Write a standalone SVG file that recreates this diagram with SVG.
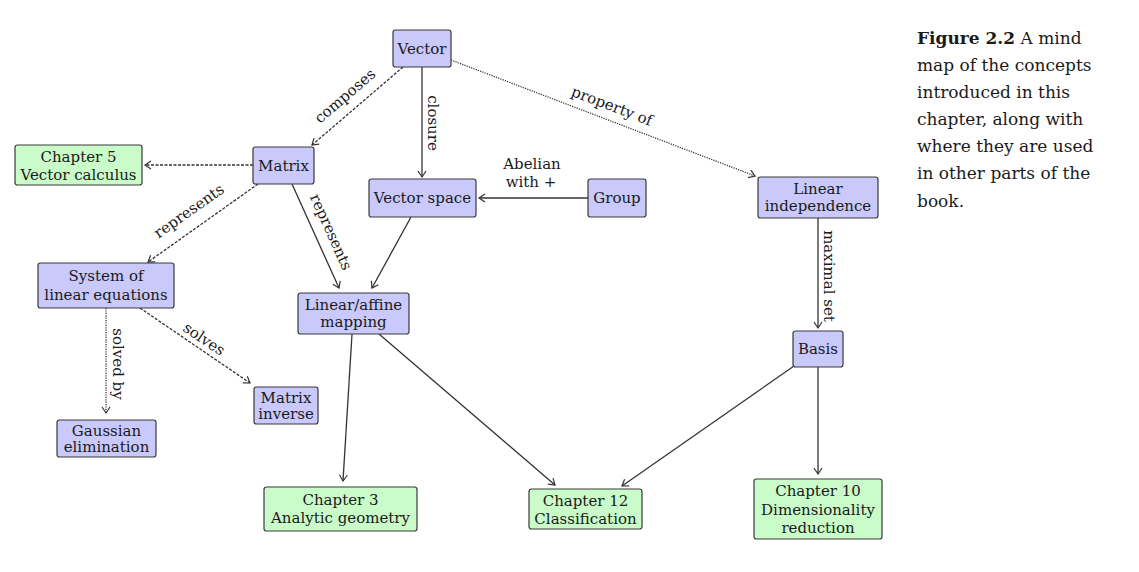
<svg xmlns="http://www.w3.org/2000/svg" width="1139" height="572" viewBox="0 0 1139 572">
<style>
  .bg{fill:#ffffff}
  .nb rect{fill:#c9c9fb;stroke:#3a3a3a;stroke-width:1.2}
  .ng rect{fill:#c9fcc9;stroke:#3a3a3a;stroke-width:1.2}
  text{font-family:"DejaVu Serif","Liberation Serif",serif;font-size:15px;fill:#1a1a1a}
  .n text{text-anchor:middle;dominant-baseline:central}
  .lab{text-anchor:middle;dominant-baseline:central}
  .e{fill:none;stroke:#333;stroke-width:1.3;marker-end:url(#ah)}
  .dash{stroke-dasharray:3 1.5}
  .dot{stroke-dasharray:1.2 1.2}
  .cap{font-size:17px;fill:#1a1a1a}
</style>
<defs>
  <marker id="ah" markerUnits="userSpaceOnUse" markerWidth="12" markerHeight="12" refX="8" refY="5" orient="auto">
    <path d="M2,1 L8,5 L2,9" fill="none" stroke="#333" stroke-width="1.2"/>
  </marker>
</defs>
<rect class="bg" x="0" y="0" width="1139" height="572"/>

<g id="connectors">
  <path class="e dash" d="M403,67 L312,145"/>
  <path class="e" d="M422,67 L422,177"/>
  <path class="e dot" d="M451,60 L755,176"/>
  <path class="e dash" d="M253,165 L145,165"/>
  <path class="e dash" d="M258,184 L148,262"/>
  <path class="e" d="M292,184 L339,288"/>
  <path class="e" d="M411,217 L372,288"/>
  <path class="e" d="M588,198 L479,198"/>
  <path class="e" d="M818,218 L818,328"/>
  <path class="e dot" d="M106,308 L106,413"/>
  <path class="e dash" d="M140,308 L250,383"/>
  <path class="e" d="M352,334 L343,481"/>
  <path class="e" d="M379,334 L555,485"/>
  <path class="e" d="M794,366 L622,486"/>
  <path class="e" d="M818,367 L818,474"/>
</g>

<g id="labels">
  <text class="lab" transform="translate(345,96) rotate(-40.6)">composes</text>
  <text class="lab" transform="translate(433,123) rotate(90)">closure</text>
  <text class="lab" transform="translate(612,106) rotate(20.9)">property of</text>
  <text class="lab" transform="translate(189,211) rotate(-35.3)">represents</text>
  <text class="lab" transform="translate(331,232) rotate(65.7)">represents</text>
  <text class="lab" x="532" y="164">Abelian</text>
  <text class="lab" x="531" y="182">with +</text>
  <text class="lab" transform="translate(829,276) rotate(90)">maximal set</text>
  <text class="lab" transform="translate(118,364) rotate(90)">solved by</text>
  <text class="lab" transform="translate(204,339) rotate(34)">solves</text>
</g>

<g id="vector" class="n nb"><rect x="393" y="30" width="58" height="37" rx="2.5"/><text x="422" y="48.5">Vector</text></g>
<g id="matrix" class="n nb"><rect x="253" y="147" width="61" height="37" rx="2.5"/><text x="283.5" y="165.5">Matrix</text></g>
<g id="chapter5" class="n ng"><rect x="15" y="145" width="127" height="40" rx="2.5"/><text x="78.5" y="156.5">Chapter 5</text><text x="78.5" y="174.5">Vector calculus</text></g>
<g id="vectorspace" class="n nb"><rect x="369" y="179" width="107" height="38" rx="2.5"/><text x="422.5" y="198">Vector space</text></g>
<g id="group" class="n nb"><rect x="588" y="179" width="58" height="38" rx="2.5"/><text x="617" y="198">Group</text></g>
<g id="linind" class="n nb"><rect x="758" y="177" width="120" height="41" rx="2.5"/><text x="818" y="188.5">Linear</text><text x="818" y="205.5">independence</text></g>
<g id="basis" class="n nb"><rect x="793" y="331" width="50" height="36" rx="2.5"/><text x="818" y="349">Basis</text></g>
<g id="system" class="n nb"><rect x="38" y="263" width="136" height="45" rx="2.5"/><text x="106" y="276">System of</text><text x="106" y="295">linear equations</text></g>
<g id="linaff" class="n nb"><rect x="298" y="293" width="111" height="41" rx="2.5"/><text x="353.5" y="304.5">Linear/affine</text><text x="353.5" y="322">mapping</text></g>
<g id="matinv" class="n nb"><rect x="254" y="387" width="64" height="37" rx="2.5"/><text x="286" y="397.5">Matrix</text><text x="286" y="414">inverse</text></g>
<g id="gauss" class="n nb"><rect x="57" y="420" width="99" height="37" rx="2.5"/><text x="106.5" y="431">Gaussian</text><text x="106.5" y="447">elimination</text></g>
<g id="chapter3" class="n ng"><rect x="264" y="487" width="153" height="44" rx="2.5"/><text x="340.5" y="499.5">Chapter 3</text><text x="340.5" y="517.5">Analytic geometry</text></g>
<g id="chapter12" class="n ng"><rect x="529" y="489" width="113" height="40" rx="2.5"/><text x="585.5" y="501">Chapter 12</text><text x="585.5" y="519">Classification</text></g>
<g id="chapter10" class="n ng"><rect x="754" y="479" width="128" height="60" rx="2.5"/><text x="818" y="491">Chapter 10</text><text x="818" y="509.5">Dimensionality</text><text x="818" y="528">reduction</text></g>

<g id="caption">
  <text class="cap" x="917" y="44"><tspan font-weight="bold">Figure 2.2</tspan>  A mind</text>
  <text class="cap" x="917" y="71">map of the concepts</text>
  <text class="cap" x="917" y="98">introduced in this</text>
  <text class="cap" x="917" y="125">chapter, along with</text>
  <text class="cap" x="917" y="152">where they are used</text>
  <text class="cap" x="917" y="179">in other parts of the</text>
  <text class="cap" x="917" y="207">book.</text>
</g>
</svg>
